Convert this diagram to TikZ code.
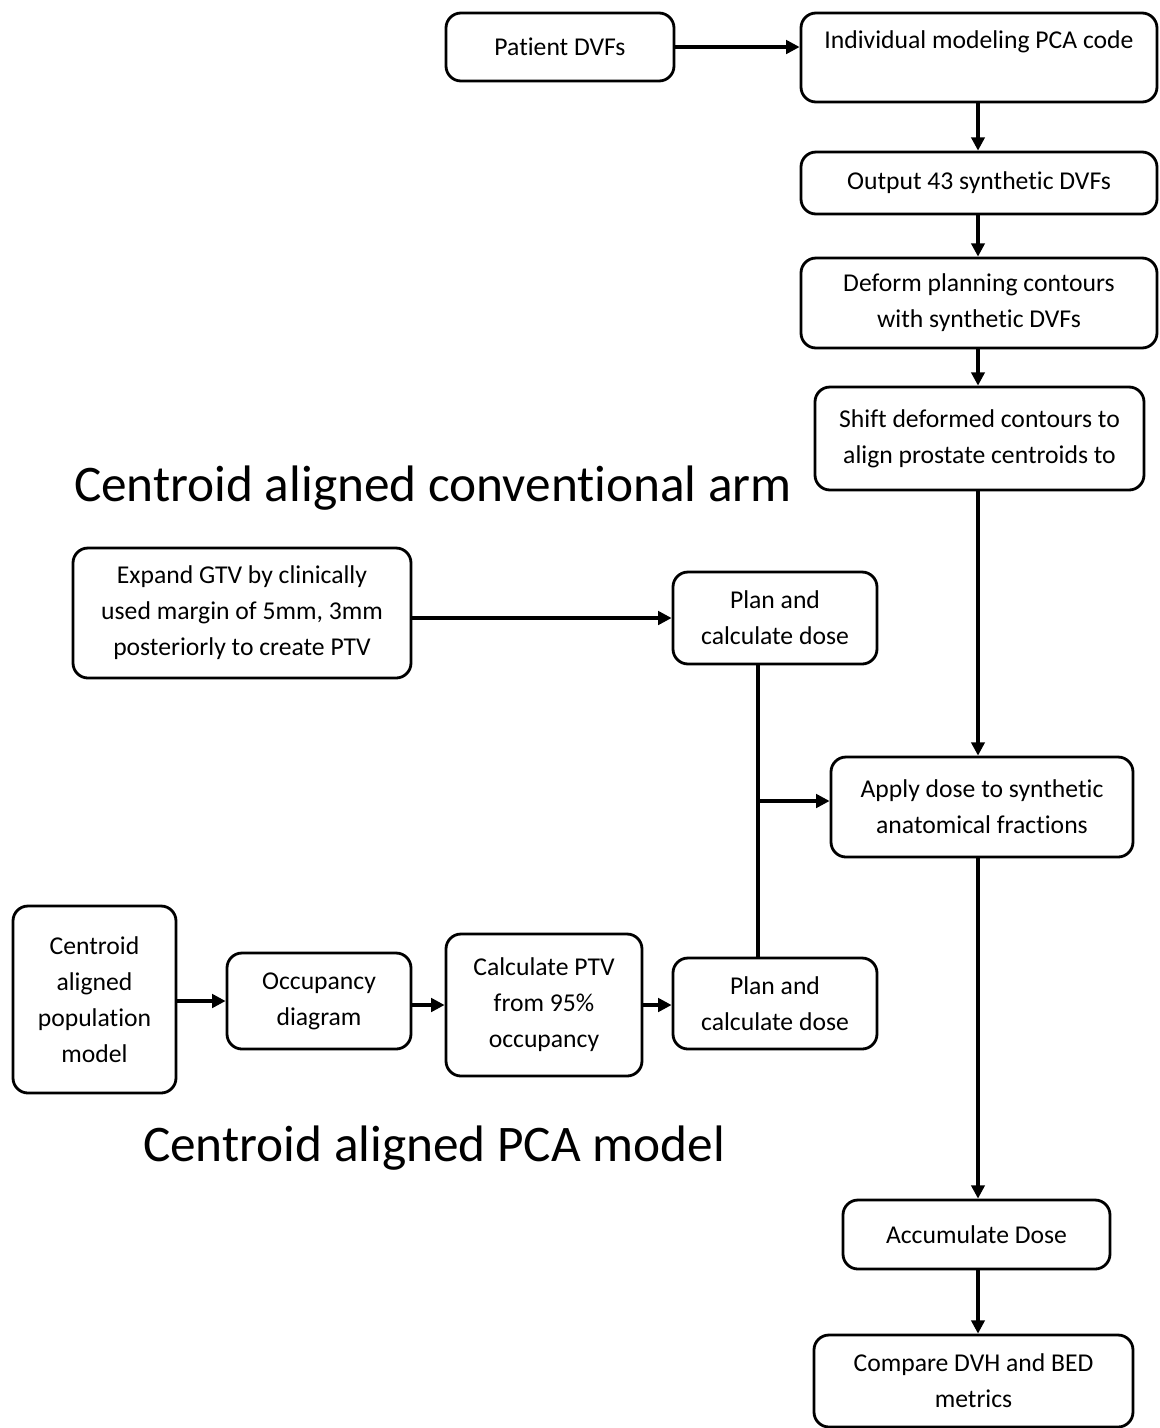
\documentclass[tikz,border=0pt]{standalone}
\usepackage{fontspec}
\setmainfont{Carlito}[Ligatures={NoCommon}]
\usetikzlibrary{arrows.meta}

\begin{document}
\begin{tikzpicture}
\useasboundingbox (0,0) rectangle (11.59,-14.28);
\begin{scope}[every node/.style={draw,line width=0.8pt,rounded corners=0.15cm,align=center,
              inner sep=0pt,font=\fontsize{7.3}{10.25}\selectfont}]
    \node[minimum width=2.28cm,minimum height=0.68cm] (pat) at (5.60,-0.47) {Patient DVFs};
    \node[minimum width=3.56cm,minimum height=0.89cm] (ind) at (9.79,-0.575) {Individual modeling PCA code\\\mbox{}};
    \node[minimum width=3.56cm,minimum height=0.62cm] (out) at (9.79,-1.83) {Output 43 synthetic DVFs};
    \node[minimum width=3.56cm,minimum height=0.90cm] (def) at (9.79,-3.03) {Deform planning contours\\with synthetic DVFs};
    \node[minimum width=3.29cm,minimum height=1.03cm] (shi) at (9.795,-4.385) {Shift deformed contours to\\align prostate centroids to};
    \node[minimum width=3.38cm,minimum height=1.30cm] (exp) at (2.42,-6.13) {Expand GTV by clinically\\used margin of 5mm, 3mm\\posteriorly to create PTV};
    \node[minimum width=2.04cm,minimum height=0.92cm] (plt) at (7.75,-6.18) {Plan and\\calculate dose};
    \node[minimum width=3.02cm,minimum height=1.00cm] (app) at (9.82,-8.07) {Apply dose to synthetic\\anatomical fractions};
    \node[minimum width=1.63cm,minimum height=1.87cm] (cen) at (0.945,-9.995) {Centroid\\aligned\\population\\model};
    \node[minimum width=1.84cm,minimum height=0.96cm] (occ) at (3.19,-10.01) {Occupancy\\diagram};
    \node[minimum width=1.96cm,minimum height=1.42cm] (cal) at (5.44,-10.05) {Calculate PTV\\from 95\%\\occupancy};
    \node[minimum width=2.04cm,minimum height=0.91cm] (plb) at (7.75,-10.035) {Plan and\\calculate dose};
    \node[minimum width=2.67cm,minimum height=0.69cm] (acc) at (9.765,-12.345) {Accumulate Dose};
    \node[minimum width=3.19cm,minimum height=0.92cm] (cmp) at (9.735,-13.81) {Compare DVH and BED\\metrics};
\end{scope}
\node[font=\fontsize{14.6}{17}\selectfont] (conv) at (4.33,-4.88) {Centroid aligned conventional arm};
\node[font=\fontsize{14.6}{17}\selectfont] (pcam) at (4.34,-11.48) {Centroid aligned PCA model};
\coordinate (j) at (7.58,-8.01);
\coordinate (spine) at (9.78,0);
\begin{scope}[every edge/.style={draw=black,line width=0.9pt,-{Triangle[length=3.8pt,width=3.8pt]}}]
    \path (pat) edge (ind.west |- pat);
    \path (ind.south -| spine) edge (out.north -| spine);
    \path (out.south -| spine) edge (def.north -| spine);
    \path (def.south -| spine) edge (shi.north -| spine);
    \path (shi.south -| spine) edge (app.north -| spine);
    \path (exp.east |- plt) edge (plt);
    \path (j) edge (app.west |- j);
    \path (cen.east |- occ) edge (occ);
    \path (occ.east |- cal) edge (cal);
    \path (cal) edge (plb.west |- cal);
    \path (app.south -| spine) edge (acc.north -| spine);
    \path (acc.south -| spine) edge (cmp.north -| spine);
    \path[draw,line width=0.9pt] (plt.south -| j) -- (plb.north -| j);
\end{scope}
\end{tikzpicture}
\end{document}
